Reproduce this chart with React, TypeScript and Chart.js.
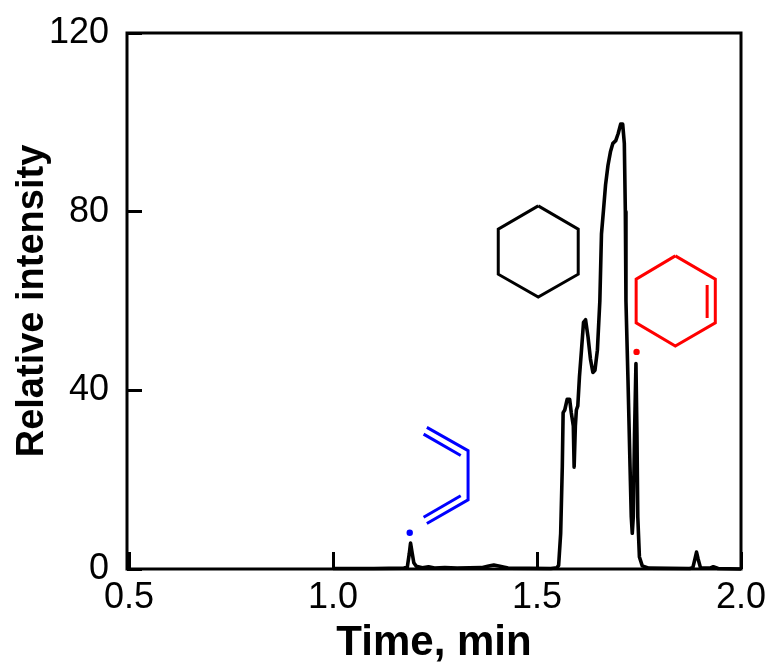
import React, { useEffect, useRef } from "react";
import { Chart, registerables } from "chart.js";

Chart.register(...registerables);

const timeValues = [
  1.0, 1.1, 1.174, 1.182, 1.187, 1.19, 1.194, 1.198, 1.204, 1.219, 1.234, 1.249, 1.274, 1.304, 1.364, 1.379, 1.394, 1.409, 1.429,
  1.534, 1.549, 1.553, 1.558, 1.562, 1.564, 1.568, 1.574, 1.58, 1.584, 1.589, 1.591, 1.594, 1.5965, 1.6, 1.604, 1.609, 1.614, 1.619, 1.625,
  1.631, 1.637, 1.642, 1.648, 1.654, 1.658, 1.663, 1.668, 1.674, 1.68, 1.686, 1.693, 1.699, 1.705, 1.71, 1.714, 1.7165, 1.718, 1.723,
  1.728, 1.731, 1.7335, 1.736, 1.739, 1.7425, 1.745, 1.747, 1.751, 1.758, 1.774, 1.874, 1.882, 1.887, 1.891, 1.895, 1.901, 1.924, 1.932, 1.944, 2.0,
];
const intensityValues = [
  0.1, 0.1, 0.2, 0.4, 3.5, 5.8, 3.6, 1.4, 0.6, 0.3, 0.5, 0.2, 0.3, 0.2, 0.3, 0.6, 0.9, 0.6, 0.2,
  0.1, 0.3, 0.8, 8, 23, 35, 35.6, 38, 38, 35, 32, 22.8, 32, 35.6, 36.5, 43, 49, 55.2, 55.8, 52,
  47, 44, 44.5, 49, 60, 75, 80.4, 86, 90.4, 93.4, 95.3, 95.9, 97.5, 99.6, 99.6, 95.3, 80, 60, 42.3,
  23, 11.7, 8, 11.7, 30, 46, 30, 11.7, 2.7, 0.7, 0.2, 0.1, 0.3, 2.2, 3.8, 2.2, 0.2, 0.2, 0.5, 0.1, 0,
];

const cyclohexaneT = [1.503, 1.601, 1.601, 1.503, 1.405, 1.405, 1.503];
const cyclohexaneI = [81.3, 76.1, 66, 60.9, 66, 76.1, 81.3];
const cyclohexeneT = [1.839, 1.937, 1.937, 1.839, 1.743, 1.743, 1.839];
const cyclohexeneI = [70.1, 64.9, 55.1, 49.9, 55.1, 64.9, 70.1];
const cyclohexeneBondT = [1.917, 1.917];
const cyclohexeneBondI = [63.6, 56.2];
const butadieneT = [1.23, 1.331, 1.331, 1.23];
const butadieneI = [31.7, 26.5, 15.5, 10.2];
const butadieneBondAT = [1.222, 1.313];
const butadieneBondAI = [30.2, 25.4];
const butadieneBondBT = [1.313, 1.222];
const butadieneBondBI = [16.4, 11.6];
const blueDotT = [1.188];
const blueDotI = [8.1];
const redDotT = [1.744];
const redDotI = [48.6];

const xTicks = [0.5, 1.0, 1.5, 2.0];
const yTicks = [0, 40, 80, 120];

const FONT = "'Liberation Sans', Arial, sans-serif";
const pts = (xs: number[], ys: number[]) => xs.map((x, i) => ({ x, y: ys[i] }));
const shape = (xs: number[], ys: number[], color: string, width = 3) => ({
  data: pts(xs, ys),
  borderColor: color,
  borderWidth: width,
  pointRadius: 0,
  tension: 0,
  borderJoinStyle: "miter" as const,
  clip: false as const,
});
const dot = (xs: number[], ys: number[], color: string) => ({
  data: pts(xs, ys),
  showLine: false,
  pointRadius: 3.2,
  pointBorderWidth: 0,
  pointBackgroundColor: color,
  borderColor: color,
});

const frame = {
  id: "frame",
  afterDraw(chart: any) {
    const { ctx, chartArea: a } = chart;
    ctx.save();
    ctx.strokeStyle = "#000";
    ctx.lineWidth = 3;
    ctx.strokeRect(a.left, a.top, a.right - a.left, a.bottom - a.top);
    ctx.restore();
  },
};

const noBoxPadding = (s: any) => {
  s.paddingTop = 0;
  s.paddingBottom = 0;
  s.paddingLeft = 0;
  s.paddingRight = 0;
};

export default function App() {
  const ref = useRef<HTMLCanvasElement>(null);
  useEffect(() => {
    const chart = new Chart(ref.current!, {
      type: "line",
      data: {
        datasets: [
          { ...shape(timeValues, intensityValues, "#000", 3.6), borderJoinStyle: "round" },
          shape(cyclohexaneT, cyclohexaneI, "#000"),
          shape(cyclohexeneT, cyclohexeneI, "#f00"),
          shape(cyclohexeneBondT, cyclohexeneBondI, "#f00"),
          shape(butadieneT, butadieneI, "#00f"),
          shape(butadieneBondAT, butadieneBondAI, "#00f"),
          shape(butadieneBondBT, butadieneBondBI, "#00f"),
          dot(blueDotT, blueDotI, "#00f"),
          dot(redDotT, redDotI, "#f00"),
        ] as any,
      },
      plugins: [frame],
      options: {
        animation: false,
        responsive: false,
        parsing: false,
        layout: { padding: { top: 33, right: 32, left: 0, bottom: 0 } },
        plugins: { legend: { display: false }, tooltip: { enabled: false } },
        scales: {
          x: {
            type: "linear",
            min: 0.495,
            max: 2.0,
            afterFit: (s: any) => { s.height = 97; noBoxPadding(s); },
            afterBuildTicks: (s: any) => { s.ticks = xTicks.map((value) => ({ value })); },
            grid: { drawOnChartArea: false, drawTicks: true, tickLength: -17, lineWidth: 3, color: "#000" },
            border: { display: false },
            ticks: {
              color: "#000",
              padding: 24,
              maxRotation: 0,
              autoSkip: false,
              font: { family: FONT, size: 36 },
              callback: (v: any) => Number(v).toFixed(1),
            },
            title: {
              display: true,
              text: "Time, min",
              color: "#000",
              font: { family: FONT, size: 42, weight: "bold" },
              padding: { top: 0, bottom: -3 },
            },
          },
          y: {
            type: "linear",
            min: 0,
            max: 120,
            afterFit: (s: any) => { s.width = 127; noBoxPadding(s); },
            afterBuildTicks: (s: any) => { s.ticks = yTicks.map((value) => ({ value })); },
            grid: { drawOnChartArea: false, drawTicks: true, tickLength: -15, lineWidth: 3, color: "#000" },
            border: { display: false },
            ticks: {
              color: "#000",
              padding: 33,
              autoSkip: false,
              font: { family: FONT, size: 36 },
            },
            title: {
              display: true,
              text: "Relative intensity",
              color: "#000",
              font: { family: FONT, size: 38, weight: "bold" },
              padding: { top: 10, bottom: 0 },
            },
          },
        },
      } as any,
    });
    return () => chart.destroy();
  }, []);
  return (
    <div style={{ position: "absolute", left: 0, top: 0, width: 773, height: 666, background: "#fff" }}>
      <canvas ref={ref} width={773} height={666} style={{ display: "block" }} />
    </div>
  );
}
